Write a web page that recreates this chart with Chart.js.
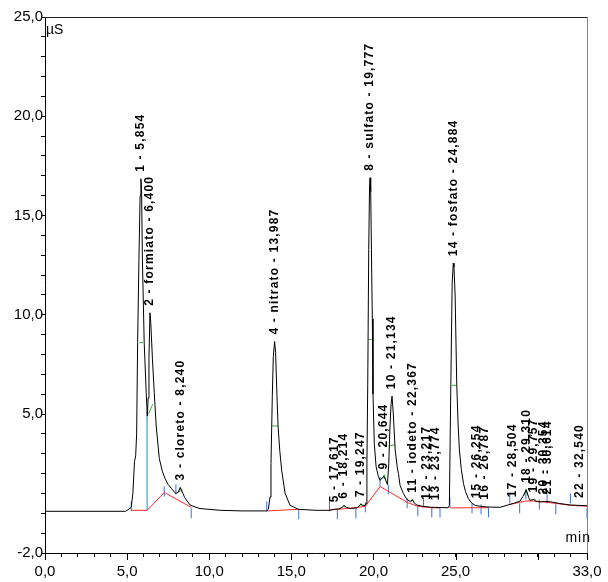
<!DOCTYPE html>
<html>
<head>
<meta charset="utf-8">
<script src="https://cdn.jsdelivr.net/npm/chart.js@4.4.1/dist/chart.umd.min.js"></script>
<style>
  html, body { margin: 0; padding: 0; background: #fff; }
  #wrap { width: 608px; height: 582px; }
</style>
</head>
<body>
<div id="wrap"><canvas id="crom" width="608" height="582"></canvas></div>
<script>
// Cromatograma (condutividade em µS vs tempo em min)
const sigT = [0, 4.9, 5.1, 5.25, 5.35, 5.45, 5.52, 5.58, 5.64, 5.72, 5.79, 5.84, 5.88, 5.93, 6.04, 6.16, 6.23,
  6.28, 6.33, 6.39, 6.44, 6.54, 6.65, 6.77, 6.96, 7.15, 7.31, 7.5, 7.71, 7.95, 8.1, 8.24, 8.35, 8.5, 8.83,
  9.2, 9.44, 10.66, 12.0, 13.5, 13.6, 13.7, 13.76, 13.84, 13.9, 13.98, 14.04, 14.12, 14.19, 14.3, 14.41,
  14.62, 14.92, 15.43, 16.5, 17.36, 17.6, 17.9, 18.1, 18.2, 18.35, 18.6, 19.0, 19.22, 19.35, 19.5, 19.55,
  19.6, 19.65, 19.71, 19.76, 19.79, 19.83, 19.9, 19.93, 19.97, 20.05, 20.16, 20.3, 20.4, 20.55, 20.65,
  20.85, 20.93, 21.0, 21.07, 21.13, 21.2, 21.32, 21.45, 21.52, 21.62, 21.82, 22.03, 22.23, 22.37, 22.5,
  22.64, 23.0, 23.25, 23.5, 23.77, 24.06, 24.55, 24.62, 24.71, 24.79, 24.86, 24.9, 24.97, 25.07, 25.15,
  25.23, 25.35, 25.48, 25.6, 25.78, 26.0, 26.19, 26.5, 26.9, 27.7, 28.32, 28.6, 28.93, 29.1, 29.3, 29.45,
  29.54, 29.75, 29.9, 30.15, 30.4, 30.76, 31.36, 31.97, 33.0];
const sigV = [0.1, 0.1, 0.2, 0.3, 1.0, 2.6, 2.9, 4.0, 8.6, 12.8, 16.0, 16.85, 16.3, 12.8, 8.6, 6.1, 4.9,
  5.8, 7.8, 10.1, 9.6, 7.8, 6.1, 4.4, 2.75, 2.1, 1.75, 1.45, 1.24, 1.0, 1.05, 1.3, 1.1, 0.8, 0.42,
  0.3, 0.24, 0.15, 0.12, 0.12, 0.2, 0.82, 2.5, 5.9, 7.9, 8.65, 8.1, 6.0, 4.4, 3.1, 2.17,
  1.0, 0.4, 0.2, 0.15, 0.15, 0.2, 0.22, 0.3, 0.38, 0.3, 0.24, 0.28, 0.45, 0.4, 0.4, 0.5,
  2.5, 6.5, 13.3, 16.5, 16.9, 16.2, 11.6, 9.8, 6.0, 3.5, 2.34, 1.85, 1.66, 1.8, 1.85,
  1.45, 2.5, 4.3, 5.5, 5.9, 5.1, 3.2, 2.3, 2.0, 1.4, 1.0, 0.7, 0.6, 0.68, 0.5,
  0.42, 0.35, 0.33, 0.3, 0.3, 0.29, 0.28, 0.4, 6.5, 11.6, 12.6, 12.4, 11.0, 6.5, 4.5,
  3.2, 2.2, 1.5, 1.1, 0.74, 0.5, 0.4, 0.35, 0.32, 0.3, 0.45, 0.52, 0.62, 0.85, 1.18, 0.8,
  0.65, 0.7, 0.6, 0.57, 0.6, 0.58, 0.49, 0.42, 0.38];

// linha de base de integração (vermelha), null = interrupção
const baseT = [5.25, 6.22, 7.26, 8.9, 9.0, 13.5, 15.45, 15.5, 17.32, 17.8, 18.93, 19.5, 20.4, 22.05, 22.7,
  23.05, 23.55, 24.05, 24.1, 24.65, 26.0, 26.55, 27.0, 27.1, 28.3, 28.9, 29.28, 29.6, 30.1, 30.57, 31.1, 31.99, 33.0];
const baseV = [0.15, 0.15, 1.05, 0.3, null, 0.12, 0.2, null, 0.18, 0.2, 0.28, 0.35, 1.35, 0.55, 0.35,
  0.32, 0.28, 0.27, null, 0.27, 0.28, 0.28, 0.28, null, 0.45, 0.55, 0.62, 0.62, 0.6, 0.55, 0.5, 0.4, 0.36];

// marcas de meia altura (verdes)
const halfT = [5.74, 5.98, 6.0, 6.3, 6.56, 6.6, 8.17, 8.24, 8.32, 8.4, 13.83, 14.2, 14.3, 18.1, 18.2, 18.3, 18.4,
  19.15, 19.24, 19.33, 19.4, 19.69, 19.93, 19.95, 20.55, 20.65, 20.75, 20.8, 21.0, 21.3, 21.35,
  22.28, 22.37, 22.46, 22.5, 24.77, 25.07, 25.1, 29.2, 29.3, 29.4, 29.45, 29.7, 29.8, 29.9];
const halfV = [8.6, 8.6, null, 5.0, 5.5, null, 1.05, 1.3, 1.05, null, 4.4, 4.4, null, 0.3, 0.42, 0.3, null,
  0.35, 0.5, 0.38, null, 8.76, 8.76, null, 1.75, 1.95, 1.7, null, 3.4, 3.45, null,
  0.55, 0.72, 0.55, null, 6.45, 6.45, null, 0.9, 1.2, 0.9, null, 0.65, 0.72, 0.65];

// marcas de início/fim de pico (azuis)
const markT = [5.25, 6.22, 7.26, 7.97, 8.9, 13.5, 15.45, 17.32, 17.8, 18.93, 19.5, 20.4, 20.9, 22.05, 22.7,
  23.05, 23.55, 24.05, 24.65, 26.0, 26.55, 27.0, 28.3, 28.9, 29.28, 30.1, 30.57, 31.1, 31.99, 33.0];
const markV = [0.35, 4.9, 1.1, 1.2, 0.0, 0.35, -0.05, 0.35, -0.05, 0.0, 0.3, 1.6, 1.2, 0.5, 0.1,
  0.55, 0.05, 0.05, 0.55, 0.25, 0.2, 0.05, 0.75, 0.25, 0.95, 0.45, 0.75, 0.2, 0.75, 0.0];

// picos identificados
const peakNames = ['1 - 5,854', '2 - formiato - 6,400', '3 - cloreto - 8,240', '4 - nitrato - 13,987',
  '5 - 17,617', '6 - 18,214', '7 - 19,247', '8 - sulfato - 19,777', '9 - 20,644', '10 - 21,134',
  '11 - iodeto - 22,367', '12 - 23,217', '13 - 23,774', '14 - fosfato - 24,884', '15 - 26,254',
  '16 - 26,787', '17 - 28,504', '18 - 29,310', '19 - 29,757', '20 - 30,354', '21 - 30,614', '22 - 32,540'];
const peakT = [5.854, 6.400, 8.240, 13.987, 17.617, 18.214, 19.247, 19.777, 20.644, 21.134, 22.367,
  23.217, 23.774, 24.884, 26.254, 26.787, 28.504, 29.310, 29.757, 30.354, 30.614, 32.540];
const peakTop = [16.85, 10.1, 1.3, 8.65, 0.2, 0.38, 0.45, 16.9, 1.85, 5.9, 0.68, 0.33, 0.3, 12.6, 0.4,
  0.33, 0.45, 1.18, 0.7, 0.6, 0.6, 0.42];

const xLabels = [0, 5, 10, 15, 20, 25, 33];
const yLabels = [-2, 5, 10, 15, 20, 25];

const pts = (xs, ys) => xs.map((x, i) => ({ x, y: ys[i] }));
const fam = '"Liberation Sans", Arial, sans-serif';

const molduraPlugin = {
  id: 'moldura',
  afterDraw(chart) {
    const { ctx, chartArea: a, scales: { x, y } } = chart;
    ctx.save();
    ctx.lineWidth = 1;
    ctx.strokeStyle = '#222';
    ctx.beginPath();
    ctx.moveTo(a.left, a.top + 0.5);
    ctx.lineTo(a.right, a.top + 0.5);
    ctx.stroke();
    ctx.strokeStyle = '#888';
    ctx.beginPath();
    ctx.moveTo(a.right + 0.5, a.top);
    ctx.lineTo(a.right + 0.5, a.bottom);
    ctx.stroke();
    // ticks maiores do eixo x
    ctx.strokeStyle = '#000';
    [0, 5, 10, 15, 20, 25, 30, 33].forEach(v => {
      const px = Math.round(x.getPixelForValue(v)) + 0.5;
      ctx.beginPath();
      ctx.moveTo(px, a.bottom);
      ctx.lineTo(px, a.bottom + 7);
      ctx.stroke();
    });
    ctx.fillStyle = '#000';
    ctx.font = '14px ' + fam;
    ctx.textAlign = 'left';
    ctx.textBaseline = 'middle';
    ctx.fillText('µS', a.left + 1, a.top + 13);
    ctx.textAlign = 'right';
    ctx.letterSpacing = '1px';
    ctx.fillText('min', a.right + 4, a.bottom - 15);
    ctx.letterSpacing = '0px';
    ctx.restore();
  }
};

const rotulosPlugin = {
  id: 'rotulos',
  afterDatasetsDraw(chart) {
    const { ctx, scales: { x, y } } = chart;
    ctx.save();
    ctx.fillStyle = '#000';
    ctx.font = 'bold 12px ' + fam;
    ctx.letterSpacing = '1.2px';
    ctx.textAlign = 'left';
    ctx.textBaseline = 'middle';
    peakNames.forEach((txt, i) => {
      ctx.save();
      ctx.translate(x.getPixelForValue(peakT[i]), y.getPixelForValue(peakTop[i]) - 7);
      ctx.rotate(-Math.PI / 2);
      ctx.fillText(txt, 0, 0);
      ctx.restore();
    });
    ctx.letterSpacing = '0px';
    ctx.restore();
  }
};

new Chart(document.getElementById('crom').getContext('2d'), {
  type: 'line',
  data: {
    datasets: [
      { data: pts(sigT, sigV), borderColor: '#000', borderWidth: 1, pointRadius: 0, tension: 0 },
      { data: pts(baseT, baseV), borderColor: '#ff2a2a', borderWidth: 1, pointRadius: 0, spanGaps: false },
      { data: [{ x: 6.22, y: 4.9 }, { x: 6.22, y: 0.15 }], borderColor: '#6cc3d5', borderWidth: 1, pointRadius: 0 },
      { data: pts(halfT, halfV), borderColor: '#3fb03f', borderWidth: 1, pointRadius: 0, spanGaps: false },
      { data: pts(markT, markV), showLine: false, pointStyle: 'line', rotation: 90, pointRadius: 5,
        borderColor: '#3b6fd4', borderWidth: 1 }
    ]
  },
  options: {
    responsive: false,
    animation: false,
    events: [],
    layout: { padding: { top: 17, right: 21, left: 0, bottom: 0 } },
    plugins: { legend: { display: false }, tooltip: { enabled: false } },
    scales: {
      x: {
        type: 'linear', min: 0, max: 33,
        afterFit: s => { s.height = 29; },
        grid: { drawOnChartArea: false, drawTicks: true, tickLength: 4, color: '#000' },
        border: { display: true, color: '#000' },
        ticks: {
          stepSize: 1, autoSkip: false, maxRotation: 0, padding: 6, color: '#000',
          font: { family: fam, size: 15 },
          callback: v => xLabels.includes(v) ? v.toFixed(1).replace('.', ',') : ''
        }
      },
      y: {
        type: 'linear', min: -2, max: 25,
        afterFit: s => { s.width = 45; },
        grid: { drawOnChartArea: false, drawTicks: true, tickLength: 4, color: '#000' },
        border: { display: true, color: '#000' },
        ticks: {
          stepSize: 1, autoSkip: false, padding: -2, color: '#000',
          font: { family: fam, size: 15 },
          callback: v => yLabels.includes(v) ? v.toFixed(1).replace('.', ',') : ''
        }
      }
    }
  },
  plugins: [molduraPlugin, rotulosPlugin]
});
</script>
</body>
</html>
